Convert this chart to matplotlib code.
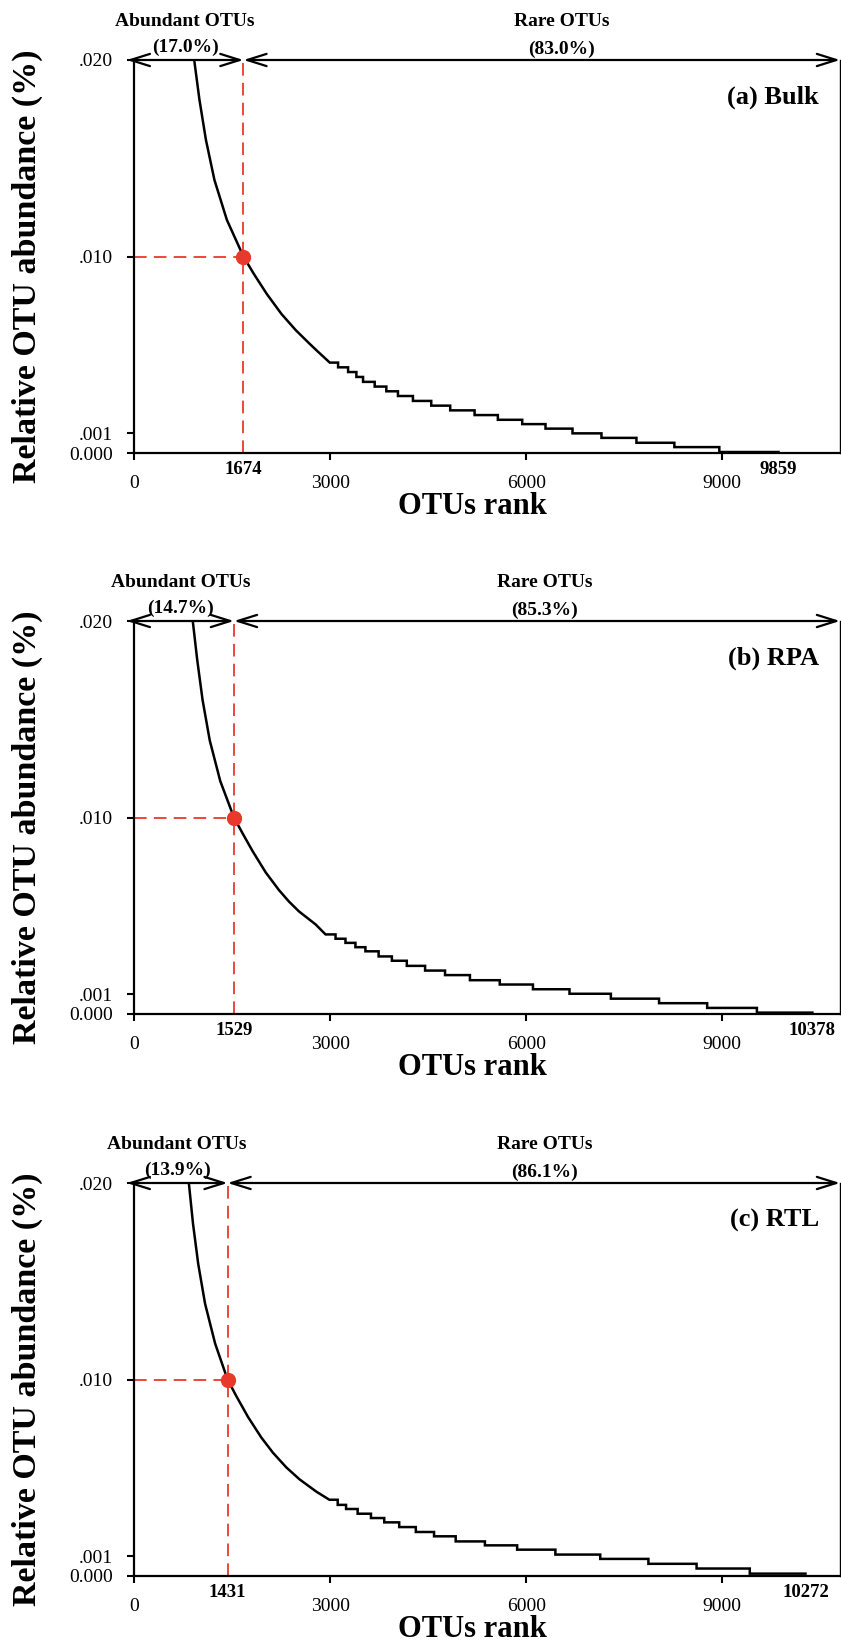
import numpy as np
import matplotlib.pyplot as plt

plt.rcParams['font.family'] = ['Liberation Serif', 'DejaVu Serif']

# ---- data ----
panel_names = ['(a) Bulk', '(b) RPA', '(c) RTL']
cut_rank = [1674, 1529, 1431]          # rank where abundance drops to 0.010 %
total_otus = [9859, 10378, 10272]
abundant_pct = ['(17.0%)', '(14.7%)', '(13.9%)']
rare_pct = ['(83.0%)', '(85.3%)', '(86.1%)']
cut_value = 0.010

# steep upper part of each curve: rank, relative abundance (%)
bulk_rank = [921, 1001, 1100, 1230, 1421, 1674, 1834, 2032, 2257, 2475, 2689, 2816]
bulk_abund = [0.0200, 0.01798, 0.01594, 0.0139, 0.01186, 0.0100, 0.00911, 0.00809,
              0.00707, 0.00625, 0.00555, 0.00515]
rpa_rank = [899, 966, 1049, 1159, 1320, 1529, 1660, 1812, 2016, 2219, 2371, 2524, 2778]
rpa_abund = [0.0200, 0.01805, 0.01598, 0.01392, 0.01185, 0.0100, 0.0092, 0.0083, 0.0072,
             0.0063, 0.00572, 0.00522, 0.00456]
rtl_rank = [839, 903, 982, 1087, 1241, 1431, 1566, 1743, 1947, 2124, 2329, 2532, 2786]
rtl_abund = [0.0200, 0.01792, 0.01589, 0.01386, 0.01183, 0.0100, 0.00915, 0.0081, 0.00705,
             0.00628, 0.00553, 0.00492, 0.0043]

# flat tail: step edges (rank) and the level held between consecutive edges
bulk_edges = [2995, 3122, 3275, 3402, 3504, 3682, 3860, 4038, 4267, 4547, 4837, 5210, 5566, 5939,
              6295, 6708, 7151, 7686, 8266, 8954, 9859]
bulk_levels = [0.00460, 0.00436, 0.00412, 0.00387, 0.00362, 0.00338, 0.00314, 0.00290, 0.00265,
               0.00241, 0.00217, 0.00193, 0.00169, 0.00147, 0.00124, 0.00100, 0.00077, 0.00052,
               0.00030, 0.00005]
rpa_edges = [2930, 3083, 3235, 3387, 3540, 3742, 3945, 4173, 4453, 4758, 5139, 5595, 6103, 6662,
             7295, 8032, 8768, 9529, 10378]
rpa_levels = [0.00405, 0.00383, 0.00362, 0.0034, 0.00319, 0.00293, 0.00271, 0.00245, 0.00221,
              0.00198, 0.00172, 0.0015, 0.00126, 0.00103, 0.00078, 0.00055, 0.00031, 0.00007]
rtl_edges = [2989, 3116, 3244, 3421, 3625, 3828, 4057, 4311, 4590, 4921, 5368, 5861, 6446, 7132,
             7869, 8606, 9420, 10272]
rtl_levels = [0.00388, 0.00362, 0.00341, 0.00317, 0.00295, 0.00273, 0.00249, 0.00224, 0.00202,
              0.00176, 0.00156, 0.00134, 0.00109, 0.00087, 0.00062, 0.00038, 0.00012]

curves = [(bulk_rank, bulk_abund, bulk_edges, bulk_levels),
          (rpa_rank, rpa_abund, rpa_edges, rpa_levels),
          (rtl_rank, rtl_abund, rtl_edges, rtl_levels)]

y_ticks = [0.0, 0.001, 0.010, 0.020]
y_ticklabels = ['0.000', '.001', '.010', '.020']
x_ticks = [0, 3000, 6000, 9000]

# ---- layout ----
RED = '#e8392c'
W, H = 841, 1645
tops = [60, 621, 1183]
ax_h = 393
ax_left, ax_w = 134, 706
rare_x = [6540, 6280, 6280]
xmax = 10800

fig = plt.figure(figsize=(W / 100, H / 100), dpi=100)

for i in range(3):
    ax = fig.add_axes([ax_left / W, 1 - (tops[i] + ax_h) / H, ax_w / W, ax_h / H])
    rank, abund, edges, levels = curves[i]

    # rank-abundance line: smooth head + stepped tail
    xs = list(rank)
    ys = list(abund)
    for k in range(len(levels)):
        xs += [edges[k], edges[k + 1]]
        ys += [levels[k], levels[k]]
    ax.plot(xs, ys, color='black', lw=1.8, solid_joinstyle='miter')

    c = cut_rank[i]
    ax.plot([0, c], [cut_value, cut_value], color=RED, lw=1.3, dashes=(7, 4))
    ax.plot([c, c], [0, 0.020], color=RED, lw=1.3, dashes=(7, 4))
    ax.plot(c, cut_value, 'o', color=RED, ms=10, zorder=5, clip_on=False)

    ax.set_xlim(0, xmax)
    ax.set_ylim(0, 0.020)
    ax.spines['top'].set_visible(False)
    ax.spines['left'].set_linewidth(1.6)
    ax.spines['bottom'].set_linewidth(1.6)
    ax.spines['right'].set_linewidth(1.0)

    ax.set_yticks(y_ticks)
    ax.set_yticklabels(y_ticklabels)
    ax.set_xticks(x_ticks)
    ax.set_xticklabels([str(t) for t in x_ticks])
    ax.tick_params(axis='y', direction='out', length=5, width=1.5, pad=10, labelsize=14)
    ax.tick_params(axis='x', direction='out', length=5, width=1.5, pad=11, labelsize=14)

    # bold rank labels next to the axis
    for r in (c, total_otus[i]):
        ax.annotate(str(r), xy=(r, 0), xycoords='data', xytext=(0, -12),
                    textcoords='offset points', ha='center', va='center',
                    fontsize=13.5, fontweight='bold', annotation_clip=False)

    # double arrows along the top border
    arr = dict(arrowstyle='<->,head_length=0.7,head_width=0.22', lw=1.6, color='black',
               shrinkA=0, shrinkB=0, mutation_scale=20)
    ax.annotate('', xy=(c, 0.020), xytext=(-110, 0.020), xycoords='data',
                textcoords='data', arrowprops=arr, annotation_clip=False)
    ax.annotate('', xy=(xmax, 0.020), xytext=(c, 0.020), xycoords='data',
                textcoords='data', arrowprops=arr, annotation_clip=False)

    trans = ax.get_xaxis_transform()
    ab_x = (c - 110) / 2
    ax.text(ab_x, 1.099, 'Abundant OTUs', transform=trans, ha='center', va='center',
            fontsize=14, fontweight='bold')
    ax.text(ab_x, 1.031, abundant_pct[i], transform=trans, ha='center', va='center',
            fontsize=14, fontweight='bold')
    ax.text(rare_x[i], 1.099, 'Rare OTUs', transform=trans, ha='center', va='center',
            fontsize=14, fontweight='bold')
    ax.text(rare_x[i], 1.028, rare_pct[i], transform=trans, ha='center', va='center',
            fontsize=14, fontweight='bold')

    ax.text(0.97, 0.905, panel_names[i], transform=ax.transAxes, ha='right', va='center',
            fontsize=19, fontweight='bold')

    ax.text(0.48, -0.136, 'OTUs rank', transform=ax.transAxes, ha='center', va='center',
            fontsize=22, fontweight='bold')
    ax.text(-0.151, 0.475, 'Relative OTU abundance (%)', transform=ax.transAxes,
            ha='center', va='center', rotation=90, fontsize=24.5, fontweight='bold')

fig.savefig('out.png', dpi=100)
